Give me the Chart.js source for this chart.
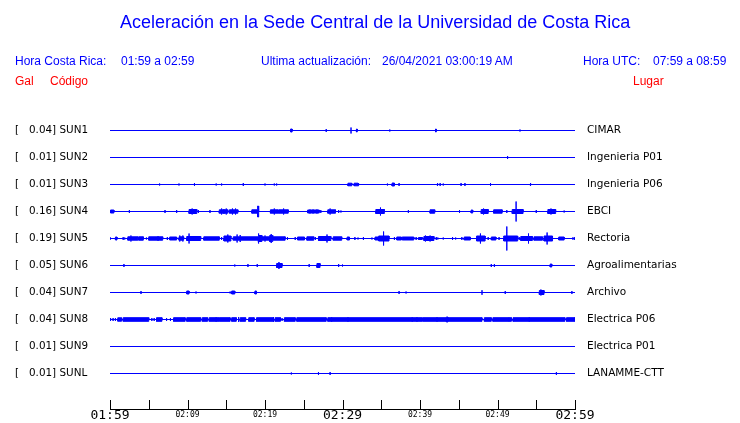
<!DOCTYPE html>
<html>
<head>
<meta charset="utf-8">
<script src="https://cdn.jsdelivr.net/npm/chart.js@4/dist/chart.umd.min.js"></script>
<style>
  body { margin: 0; background: #fff; }
  #wrap { position: relative; width: 740px; height: 423px; }
  .t { position: absolute; font-family: 'Liberation Sans', Arial, sans-serif; font-size: 12px; line-height: 12px; color: #0000ff; white-space: pre; }
  .red { color: #ff0000; }
  #title { font-size: 18px; line-height: 18px; left: 120px; top: 13px; }
</style>
</head>
<body>
<div id="wrap">
  <canvas id="ctx" width="740" height="423"></canvas>
  <div class="t" id="title">Aceleración en la Sede Central de la Universidad de Costa Rica</div>
  <div class="t" style="left:15px;top:55px">Hora Costa Rica:</div>
  <div class="t" style="left:121px;top:55px">01:59 a 02:59</div>
  <div class="t" style="left:261px;top:55px">Ultima actualización:</div>
  <div class="t" style="left:382px;top:55px">26/04/2021 03:00:19 AM</div>
  <div class="t" style="left:583px;top:55px">Hora UTC:</div>
  <div class="t" style="left:653px;top:55px">07:59 a 08:59</div>
  <div class="t red" style="left:15px;top:75px">Gal</div>
  <div class="t red" style="left:50px;top:75px">Código</div>
  <div class="t red" style="left:633px;top:75px">Lugar</div>
</div>
<script>
// estaciones
var codes = ['SUN1', 'SUN2', 'SUN3', 'SUN4', 'SUN5', 'SUN6', 'SUN7', 'SUN8', 'SUN9', 'SUNL'];
var gal = ['0.04', '0.01', '0.01', '0.16', '0.19', '0.05', '0.04', '0.04', '0.01', '0.01'];
var places = ['CIMAR', 'Ingenieria P01', 'Ingenieria P06', 'EBCI', 'Rectoria', 'Agroalimentarias', 'Archivo', 'Electrica P06', 'Electrica P01', 'LANAMME-CTT'];
var tickLabels = ['01:59', '', '02:09', '', '02:19', '', '02:29', '', '02:39', '', '02:49', '', '02:59'];

// eventos: [inicio (min desde 01:59), fin, amplitud]
var sun1 = [[23.3, 23.5, 1.5], [27.9, 27.9, 1.5], [31.1, 31.1, 3], [31.8, 31.9, 1.5], [36.1, 36.1, 1], [42.0, 42.1, 1.5], [52.9, 52.9, 1]];
var sun2 = [[51.3, 51.3, 1.5]];
var sun3 = [[6.4, 6.4, 1], [8.9, 8.9, 1], [10.9, 10.9, 1.5], [13.7, 13.7, 1], [14.4, 14.4, 1], [17.2, 17.2, 1.5], [20.0, 20.0, 1], [21.2, 21.2, 1], [21.5, 21.5, 1],
  [30.7, 31.2, 1.3], [31.5, 32.0, 1.3], [32.1, 32.1, 1], [35.8, 35.8, 1], [36.4, 36.7, 1.5], [37.3, 37.3, 1.5], [42.2, 42.3, 1.5], [42.6, 42.6, 1.5],
  [43.0, 43.0, 1], [45.3, 45.3, 1.5], [45.8, 45.8, 1.5], [49.1, 49.1, 1.5], [54.2, 54.3, 1.5]];
var sun4 = [[0.1, 0.5, 1.5], [2.5, 2.5, 1.5], [7.1, 7.1, 1.5], [8.6, 8.6, 1.5], [10.2, 11.2, 2], [10.6, 10.6, 3], [11.4, 11.4, 1.5], [12.9, 12.9, 1.5],
  [14.1, 15.2, 1.7], [14.4, 14.4, 3], [14.7, 14.7, 2.5], [15.0, 15.0, 3], [15.4, 16.5, 1.7], [15.8, 15.8, 3], [16.2, 16.2, 3],
  [18.3, 19.2, 1.7], [19.05, 19.15, 5.5], [20.7, 21.7, 1.7], [21.2, 21.2, 3], [21.8, 23.0, 1.7], [22.4, 22.4, 3],
  [25.5, 27.0, 1.5], [25.8, 25.8, 2], [26.2, 26.2, 2], [26.7, 26.7, 2], [27.2, 27.2, 1.5], [28.1, 29.1, 1.7], [28.4, 28.4, 3], [29.5, 29.5, 1.5], [29.8, 29.8, 1],
  [34.3, 35.4, 2], [34.9, 34.9, 4], [38.5, 38.5, 1.5], [41.3, 41.9, 1.7], [45.1, 45.1, 1.5], [46.6, 46.8, 1.5], [47.9, 48.8, 2], [48.2, 48.2, 3],
  [49.5, 50.6, 1.7], [51.2, 51.2, 1.5], [51.9, 53.3, 2], [52.4, 52.4, 10], [55.0, 55.0, 1.5], [56.5, 57.5, 2], [56.9, 56.9, 3], [58.6, 58.6, 1]];
var sun5 = [[0.0, 0.0, 1.5], [0.7, 0.9, 1.5], [1.7, 1.7, 1.5], [1.9, 1.9, 1], [2.3, 3.6, 1.7], [2.7, 2.7, 3], [3.7, 4.3, 1.7], [4.7, 4.7, 1],
  [5.0, 6.8, 1.7], [6.2, 6.2, 2.5], [7.4, 7.4, 1.5], [7.7, 8.6, 1.5], [8.9, 9.5, 1.7], [9.0, 9.0, 3], [9.4, 9.4, 3], [9.9, 11.7, 2], [10.2, 10.2, 5],
  [12.1, 14.1, 1.7], [14.4, 14.4, 1.5], [14.7, 15.6, 2.5], [15.2, 15.2, 4],
  [15.9, 22.6, 1.7], [16.4, 16.4, 4], [16.8, 16.8, 3.5], [19.1, 19.6, 3], [19.2, 19.2, 5], [20.0, 20.0, 3], [20.6, 21.0, 3], [20.8, 20.8, 4.5],
  [22.9, 22.9, 1.5], [23.9, 23.9, 1.5], [24.2, 25.1, 1.5], [25.4, 26.3, 1.7], [26.5, 26.5, 1.5], [26.9, 28.5, 2], [28.0, 28.0, 4],
  [28.8, 29.9, 1.7], [30.6, 30.9, 1.5], [31.6, 31.6, 1.5], [32.0, 32.0, 1], [32.7, 32.7, 1.5], [33.8, 33.8, 1],
  [34.2, 34.6, 1.5], [34.7, 36.0, 2.5], [35.3, 35.3, 7], [36.7, 36.7, 1.5], [37.0, 37.6, 1.5], [37.7, 39.2, 1.5], [39.5, 39.5, 1.5], [39.8, 40.3, 1],
  [40.5, 41.8, 2], [40.7, 40.7, 3], [41.3, 41.3, 3], [42.1, 42.1, 1.5], [42.3, 42.3, 1], [43.0, 43.0, 1], [44.2, 44.2, 1.5], [44.6, 44.6, 1],
  [45.4, 45.4, 1.5], [45.7, 46.5, 1.5], [47.3, 48.4, 2.5], [47.8, 47.8, 5], [48.8, 48.8, 1.5], [49.2, 49.8, 1.5], [50.2, 50.2, 1.5],
  [50.8, 52.6, 2.5], [51.2, 51.2, 12], [52.8, 52.8, 1.5], [53.0, 54.5, 2], [54.0, 54.0, 5], [54.7, 55.8, 1.7],
  [56.0, 57.1, 2.5], [56.4, 56.4, 6], [57.9, 58.6, 1.5], [59.7, 59.7, 1], [59.9, 59.9, 1.5]];
var sun6 = [[1.8, 1.8, 1.5], [16.1, 16.1, 1], [17.8, 17.8, 1.5], [19.0, 19.0, 1.5], [21.5, 22.2, 2], [21.8, 21.8, 3.5], [25.7, 25.7, 1.5],
  [26.7, 27.1, 2], [27.0, 27.0, 2.5], [29.5, 29.5, 1.5], [30.0, 30.0, 1], [49.2, 49.2, 1.5], [49.6, 49.6, 1.5], [56.8, 57.0, 1.5]];
var sun7 = [[4.0, 4.0, 1.5], [9.9, 10.2, 1.5], [11.1, 11.1, 1], [15.5, 15.5, 1], [15.7, 16.1, 1.5], [18.7, 18.9, 1.5], [37.3, 37.3, 1.5],
  [38.2, 38.2, 1], [48.0, 48.0, 2.3], [51.0, 51.0, 1.5], [55.4, 56.0, 2], [55.6, 55.6, 3], [59.6, 59.6, 1.5]];
var sun8 = [[0.1, 0.1, 1.5], [0.4, 0.4, 1.5], [0.7, 0.7, 1.5], [1.0, 1.5, 1.7], [1.7, 5.0, 1.8], [5.4, 5.4, 1.5], [5.7, 5.7, 1.5], [6.0, 6.7, 1.8],
  [7.3, 7.3, 1.5], [7.8, 7.8, 1.5], [8.2, 9.7, 1.8], [9.9, 11.7, 1.8], [11.9, 12.6, 1.8], [12.8, 15.5, 1.8], [13.7, 13.7, 2.5], [14.1, 14.1, 2],
  [15.7, 16.3, 1.8], [16.6, 16.6, 2.5], [16.8, 17.5, 1.8], [17.9, 18.6, 1.8], [18.9, 21.1, 1.8], [21.1, 21.1, 2.5], [21.3, 22.0, 1.8],
  [22.2, 22.2, 1.5], [22.5, 23.9, 1.8], [24.1, 27.9, 1.8], [28.1, 40.3, 1.8], [28.6, 28.6, 2.5], [30.7, 30.7, 2.5], [39.0, 39.0, 2.5], [39.6, 39.6, 2.5],
  [40.3, 48.0, 1.8], [42.2, 42.2, 2.5], [43.4, 43.6, 2.5], [48.3, 49.2, 1.8], [49.4, 51.8, 1.8], [51.5, 51.5, 2.2], [52.0, 58.7, 1.8], [54.1, 54.1, 2.5], [58.9, 60, 1.8]];
var sun9 = [];
var sunl = [[23.4, 23.4, 1], [26.9, 26.9, 1.5], [28.4, 28.4, 1.5], [57.6, 57.6, 1.5]];

var traces = [sun1, sun2, sun3, sun4, sun5, sun6, sun7, sun8, sun9, sunl];

var spacing = 27;
var baseOf = function (i) { return (9 - i) * spacing + 36; };

// envolvente de cada traza a partir de sus eventos
function envelope(events) {
  var xs = [0, 60];
  events.forEach(function (e) { xs.push(e[0], e[1]); });
  xs = xs.filter(function (v, i, a) { return a.indexOf(v) === i; }).sort(function (a, b) { return a - b; });
  var level = function (a, b) {
    var m = 0;
    events.forEach(function (e) { if (e[0] < e[1] && e[0] <= a && e[1] >= b) m = Math.max(m, e[2]); });
    return m;
  };
  var peak = function (x) {
    var m = 0;
    events.forEach(function (e) { if (e[0] === x && e[1] === x) m = Math.max(m, e[2]); });
    return m;
  };
  var pts = [];
  xs.forEach(function (x, i) {
    var before = i > 0 ? level(xs[i - 1], x) : 0;
    var after = i < xs.length - 1 ? level(x, xs[i + 1]) : 0;
    pts.push([x, before]);
    var p = peak(x);
    if (p > Math.max(before, after)) pts.push([x, p]);
    pts.push([x, after]);
  });
  return pts;
}

var datasets = [];
traces.forEach(function (ev, i) {
  var env = envelope(ev);
  var b = baseOf(i);
  datasets.push({
    data: env.map(function (p) { return { x: p[0], y: b + p[1] }; }),
    borderColor: '#0000ff', backgroundColor: '#0000ff', borderWidth: 1, fill: false
  });
  datasets.push({
    data: env.map(function (p) { return { x: p[0], y: b - p[1] }; }),
    borderColor: '#0000ff', backgroundColor: '#0000ff', borderWidth: 1, fill: '-1'
  });
});

var rowTicks = function (s) {
  s.ticks = codes.map(function (c, i) { return { value: baseOf(i) }; });
};
var rowIndex = function (v) { return Math.round(9 - (v - 36) / spacing); };

// marcas de tiempo hacia arriba desde el eje
var tickMarks = {
  id: 'tickMarks',
  afterDraw: function (chart) {
    var x = chart.scales.x, ctx = chart.ctx, b = chart.chartArea.bottom;
    ctx.save();
    ctx.strokeStyle = '#000';
    ctx.lineWidth = 1;
    x.ticks.forEach(function (t) {
      var px = Math.round(x.getPixelForValue(t.value)) + 0.5;
      ctx.beginPath();
      ctx.moveTo(px, b);
      ctx.lineTo(px, b - 9);
      ctx.stroke();
    });
    ctx.restore();
  }
};

var ctx = document.getElementById('ctx').getContext('2d');

var myChart = new Chart(ctx, {
  type: 'line',
  data: { datasets: datasets },
  plugins: [tickMarks],
  options: {
    responsive: false,
    animation: false,
    events: [],
    layout: { padding: { left: 15, right: 0, top: 116, bottom: 0 } },
    elements: { point: { radius: 0 }, line: { tension: 0 } },
    plugins: { legend: { display: false }, tooltip: { enabled: false } },
    scales: {
      x: {
        type: 'linear', min: 0, max: 60, position: 'bottom',
        grid: { display: false, drawTicks: false },
        border: { display: true, color: '#000', width: 1 },
        ticks: {
          autoSkip: false, maxRotation: 0, padding: 0, color: '#000',
          callback: function (v) { return tickLabels[Math.round(v / 5)]; },
          font: function (c) {
            var big = c.tick && c.tick.value % 30 === 0;
            return big ? { family: 'DejaVu Sans Mono', size: 13, lineHeight: 14 / 13 }
                       : { family: 'DejaVu Sans Mono', size: 8, lineHeight: 1.5 };
          }
        },
        afterBuildTicks: function (s) { s.ticks = tickLabels.map(function (l, i) { return { value: i * 5 }; }); },
        afterFit: function (s) { s.height = 14; }
      },
      y: {
        type: 'linear', position: 'left', min: 0.5, max: 293.5,
        grid: { display: false, drawTicks: false }, border: { display: false },
        ticks: {
          crossAlign: 'far', padding: 0, color: '#000',
          font: { family: 'DejaVu Sans', size: 10.4 },
          callback: function (v) { var i = rowIndex(v); return '[   ' + gal[i] + '] ' + codes[i]; }
        },
        afterBuildTicks: rowTicks,
        afterFit: function (s) { s.width = 95; s.paddingTop = 0; s.paddingBottom = 0; }
      },
      y2: {
        type: 'linear', position: 'right', min: 0.5, max: 293.5,
        grid: { display: false, drawTicks: false }, border: { display: false },
        ticks: {
          padding: 12, color: '#000',
          font: { family: 'DejaVu Sans', size: 10.5 },
          callback: function (v) { return places[rowIndex(v)]; }
        },
        afterBuildTicks: rowTicks,
        afterFit: function (s) { s.width = 165; s.paddingTop = 0; s.paddingBottom = 0; }
      }
    }
  }
});
</script>
</body>
</html>
